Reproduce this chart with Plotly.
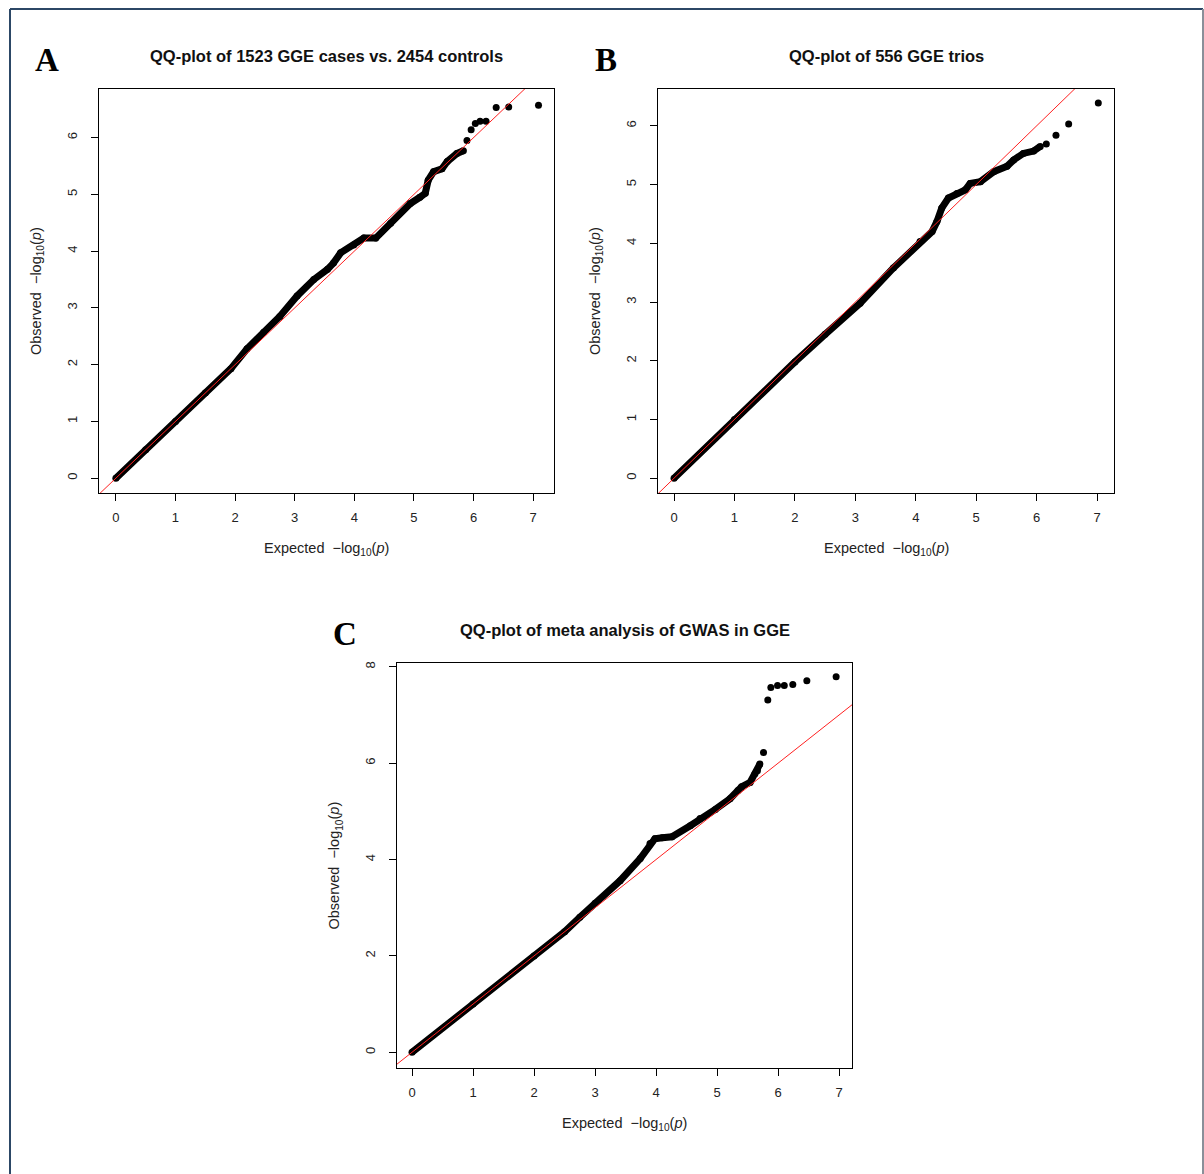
import plotly.graph_objects as go

W, H = 1204, 1174

# ---------------- data ----------------
# Panel A: 1523 GGE cases vs. 2454 controls
a_band_exp = [0, 0.5, 1.0, 1.5, 1.93, 2.2, 2.48, 2.75, 3.04, 3.32, 3.55, 3.65, 3.77, 3.99,
              4.16, 4.36, 4.61, 4.94, 5.1, 5.19, 5.24, 5.33, 5.47, 5.56, 5.72, 5.83]
a_band_obs = [0, 0.5, 1.0, 1.5, 1.93, 2.28, 2.57, 2.85, 3.21, 3.5, 3.68, 3.79, 3.97, 4.11,
              4.23, 4.23, 4.49, 4.84, 4.95, 5.02, 5.25, 5.4, 5.45, 5.58, 5.72, 5.77]
a_tail_exp = [5.89, 5.96, 6.03, 6.11, 6.21, 6.38, 6.59, 7.09]
a_tail_obs = [5.95, 6.14, 6.25, 6.29, 6.29, 6.53, 6.54, 6.57]

# Panel B: 556 GGE trios
b_band_exp = [0, 1.0, 2.0, 2.5, 3.08, 3.63, 4.07, 4.27, 4.35, 4.43, 4.54, 4.68, 4.82, 4.9,
              5.07, 5.29, 5.51, 5.62, 5.78, 5.95, 6.06]
b_band_obs = [0, 1.0, 1.98, 2.45, 2.98, 3.58, 4.03, 4.2, 4.37, 4.6, 4.77, 4.85, 4.91, 5.02,
              5.05, 5.22, 5.31, 5.42, 5.53, 5.57, 5.65]
b_tail_exp = [6.16, 6.32, 6.53, 7.02]
b_tail_obs = [5.69, 5.84, 6.03, 6.39]

# Panel C: meta analysis of GWAS in GGE
c_band_exp = [0, 1.0, 2.0, 2.5, 2.75, 3.0, 3.41, 3.74, 3.9, 3.98, 4.1, 4.26, 4.56, 4.72,
              4.97, 5.21, 5.34, 5.4, 5.54, 5.62, 5.66, 5.7]
c_band_obs = [0, 1.0, 2.0, 2.5, 2.8, 3.09, 3.56, 4.02, 4.33, 4.43, 4.45, 4.47, 4.7, 4.85,
              5.04, 5.26, 5.43, 5.51, 5.6, 5.78, 5.84, 5.98]
c_tail_exp = [5.76, 5.83, 5.88, 5.99, 6.1, 6.24, 6.47, 6.95]
c_tail_obs = [6.22, 7.31, 7.57, 7.61, 7.61, 7.63, 7.71, 7.79]

titles = ["QQ-plot of 1523 GGE cases vs. 2454 controls",
          "QQ-plot of 556 GGE trios",
          "QQ-plot of meta analysis of GWAS in GGE"]
letters = ["A", "B", "C"]

# ---------------- layout geometry (pixels) ----------------
boxes = {  # left, right, top, bottom
    "A": (99, 554, 87, 492),
    "B": (658, 1114, 87, 492),
    "C": (397, 852, 662, 1068),
}
xranges = {"A": [-0.283, 7.35], "B": [-0.265, 7.28], "C": [-0.246, 7.21]}
yranges = {"A": [-0.264, 6.86], "B": [-0.255, 6.63], "C": [-0.33, 8.08]}
yticks = {"A": [0, 1, 2, 3, 4, 5, 6], "B": [0, 1, 2, 3, 4, 5, 6], "C": [0, 2, 4, 6, 8]}
xticks = [0, 1, 2, 3, 4, 5, 6, 7]

panels = {
    "A": (a_band_exp, a_band_obs, a_tail_exp, a_tail_obs),
    "B": (b_band_exp, b_band_obs, b_tail_exp, b_tail_obs),
    "C": (c_band_exp, c_band_obs, c_tail_exp, c_tail_obs),
}

def px(x):
    return x / W

def py(y):
    return 1 - y / H

fig = go.Figure()
layout = dict(width=W, height=H, margin=dict(l=0, r=0, t=0, b=0),
              paper_bgcolor="white", plot_bgcolor="white", showlegend=False,
              font=dict(family="Liberation Sans, Arial", color="#222"))
annotations = []
shapes = []

FONT = "Liberation Sans, Arial"

order = ["A", "B", "C"]
for i, key in enumerate(order):
    suffix = "" if i == 0 else str(i + 1)
    xa, ya = "x" + suffix, "y" + suffix
    be, bo, te, to = panels[key]
    # thick band of dense points
    fig.add_trace(go.Scatter(x=be, y=bo, mode="lines+markers", xaxis=xa, yaxis=ya,
                             line=dict(color="black", width=7),
                             marker=dict(color="black", size=7), hoverinfo="skip"))
    # discrete tail points
    fig.add_trace(go.Scatter(x=te, y=to, mode="markers", xaxis=xa, yaxis=ya,
                             marker=dict(color="black", size=7), hoverinfo="skip"))

# y = x reference lines, drawn on top of the points
for i, key in enumerate(order):
    suffix = "" if i == 0 else str(i + 1)
    xa, ya = "x" + suffix, "y" + suffix
    lo = min(xranges[key][0], yranges[key][0])
    hi = max(xranges[key][1], yranges[key][1])
    fig.add_trace(go.Scatter(x=[lo, hi], y=[lo, hi], mode="lines", xaxis=xa, yaxis=ya,
                             line=dict(color="#ff2020", width=1), hoverinfo="skip"))

for i, key in enumerate(order):
    l, r, t, b = boxes[key]
    suffix = "" if i == 0 else str(i + 1)
    xa, ya = "x" + suffix, "y" + suffix
    axis_common = dict(showgrid=False, zeroline=False, showline=True, linecolor="black",
                       linewidth=1, mirror=True, ticks="outside", ticklen=7,
                       tickcolor="black", tickwidth=1,
                       tickfont=dict(family=FONT, size=13, color="#222"))
    layout["xaxis" + suffix] = dict(axis_common, domain=[px(l), px(r)],
                                    range=xranges[key], tickvals=xticks,
                                    anchor=ya, ticklabelstandoff=5)
    layout["yaxis" + suffix] = dict(axis_common, domain=[py(b), py(t)],
                                    range=yranges[key], tickvals=yticks[key],
                                    anchor=xa, tickangle=-90, ticklabelstandoff=9)

    cx = (l + r) / 2
    # title
    annotations.append(dict(x=px(cx), y=py(t - 33), xref="paper", yref="paper",
                            text="<b>" + titles[i] + "</b>", showarrow=False,
                            font=dict(family=FONT, size=16.5, color="#111"),
                            xanchor="center", yanchor="middle"))
    # panel letter
    annotations.append(dict(x=px(l - 52), y=py(t - 29), xref="paper", yref="paper",
                            text="<b>" + letters[i] + "</b>", showarrow=False,
                            font=dict(family="Liberation Serif, DejaVu Serif", size=33,
                                      color="black"),
                            xanchor="center", yanchor="middle"))
    # x axis title
    annotations.append(dict(x=px(cx), y=py(b + 56), xref="paper", yref="paper",
                            text="Expected  \u2212log<sub>10</sub>(<i>p</i>)",
                            showarrow=False,
                            font=dict(family=FONT, size=14.5, color="#222"),
                            xanchor="center", yanchor="middle"))
    # y axis title
    annotations.append(dict(x=px(l - 62), y=py((t + b) / 2), xref="paper", yref="paper",
                            text="Observed  \u2212log<sub>10</sub>(<i>p</i>)",
                            showarrow=False, textangle=-90,
                            font=dict(family=FONT, size=14.5, color="#222"),
                            xanchor="center", yanchor="middle"))

# outer frame of the figure
shapes.append(dict(type="line", xref="paper", yref="paper",
                   x0=px(10), x1=px(10), y0=0, y1=py(7),
                   line=dict(color="#2c4766", width=2)))
shapes.append(dict(type="line", xref="paper", yref="paper",
                   x0=px(10), x1=px(1203), y0=py(7), y1=py(7),
                   line=dict(color="#2c4766", width=2)))
shapes.append(dict(type="line", xref="paper", yref="paper",
                   x0=px(1203), x1=px(1203), y0=0, y1=py(7),
                   line=dict(color="#8a8f99", width=2)))

layout["annotations"] = annotations
layout["shapes"] = shapes
fig.update_layout(**layout)
fig.write_html("out.html")
